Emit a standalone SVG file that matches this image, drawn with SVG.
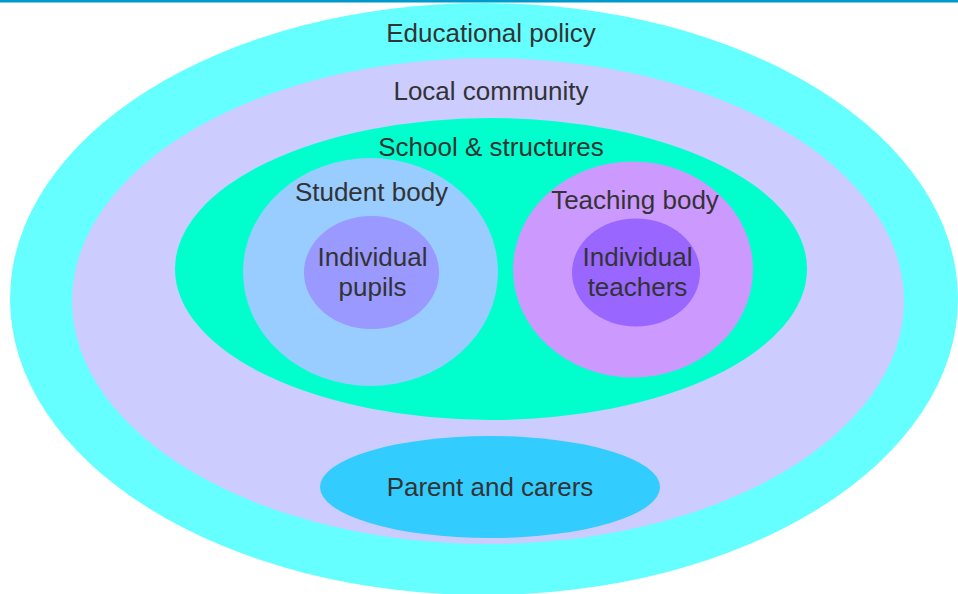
<svg xmlns="http://www.w3.org/2000/svg" width="958" height="594" viewBox="0 0 958 594">
<style>
text{font-family:"Liberation Sans",Arial,sans-serif;font-size:26px;fill:#333333;text-anchor:middle}
</style>
<rect width="958" height="594" fill="#ffffff"/>
<rect x="0" y="0" width="958" height="2.5" fill="#0099CC"/>
<g id="educational-policy">
<ellipse cx="484" cy="299" rx="474" ry="296" fill="#66FFFF"/>
<text x="491" y="42">Educational policy</text>
</g>
<g id="local-community">
<ellipse cx="488" cy="301" rx="416" ry="243" fill="#CCCCFF"/>
<text x="491" y="100">Local community</text>
</g>
<g id="school-structures">
<ellipse cx="491" cy="269" rx="316" ry="151" fill="#00FFCC"/>
<text x="491" y="156">School &amp; structures</text>
</g>
<g id="student-body">
<ellipse cx="370.5" cy="272" rx="127.5" ry="114" fill="#99CCFF"/>
<text x="371.5" y="201">Student body</text>
</g>
<g id="individual-pupils">
<ellipse cx="371.5" cy="272.5" rx="67.5" ry="56.5" fill="#9999FF"/>
<text x="372.5" y="266">Individual</text>
<text x="372.5" y="296">pupils</text>
</g>
<g id="teaching-body">
<ellipse cx="633" cy="269.5" rx="120" ry="108" fill="#CC99FF"/>
<text x="635" y="209">Teaching body</text>
</g>
<g id="individual-teachers">
<ellipse cx="636" cy="272.5" rx="64" ry="54" fill="#9966FF"/>
<text x="637.5" y="266">Individual</text>
<text x="637.5" y="296">teachers</text>
</g>
<g id="parent-carers">
<ellipse cx="490" cy="487" rx="170" ry="51" fill="#33CCFF"/>
<text x="490" y="496">Parent and carers</text>
</g>
<g id="connectors"></g>
</svg>
